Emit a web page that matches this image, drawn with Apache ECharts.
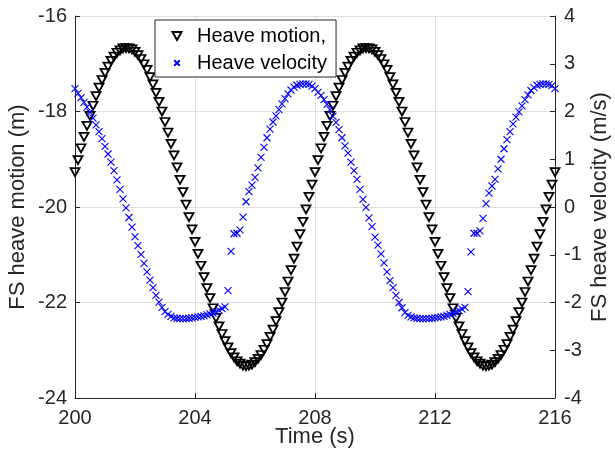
<!DOCTYPE html>
<html>
<head>
<meta charset="utf-8">
<script src="https://cdn.jsdelivr.net/npm/echarts@6/dist/echarts.min.js"></script>
<style>
  html, body { margin: 0; padding: 0; background: #fff; }
  #chart { width: 615px; height: 451px; }
</style>
</head>
<body>
<div id="chart"></div>
<script>
// Time samples (s)
const time = [
  200.0, 200.1, 200.2, 200.3, 200.4, 200.5, 200.6, 200.7, 200.8, 200.9,
  201.0, 201.1, 201.2, 201.3, 201.4, 201.5, 201.6, 201.7, 201.8, 201.9,
  202.0, 202.1, 202.2, 202.3, 202.4, 202.5, 202.6, 202.7, 202.8, 202.9,
  203.0, 203.1, 203.2, 203.3, 203.4, 203.5, 203.6, 203.7, 203.8, 203.9,
  204.0, 204.1, 204.2, 204.3, 204.4, 204.5, 204.6, 204.7, 204.8, 204.9,
  205.0, 205.1, 205.2, 205.3, 205.4, 205.5, 205.6, 205.7, 205.8, 205.9,
  206.0, 206.1, 206.2, 206.3, 206.4, 206.5, 206.6, 206.7, 206.8, 206.9,
  207.0, 207.1, 207.2, 207.3, 207.4, 207.5, 207.6, 207.7, 207.8, 207.9,
  208.0, 208.1, 208.2, 208.3, 208.4, 208.5, 208.6, 208.7, 208.8, 208.9,
  209.0, 209.1, 209.2, 209.3, 209.4, 209.5, 209.6, 209.7, 209.8, 209.9,
  210.0, 210.1, 210.2, 210.3, 210.4, 210.5, 210.6, 210.7, 210.8, 210.9,
  211.0, 211.1, 211.2, 211.3, 211.4, 211.5, 211.6, 211.7, 211.8, 211.9,
  212.0, 212.1, 212.2, 212.3, 212.4, 212.5, 212.6, 212.7, 212.8, 212.9,
  213.0, 213.1, 213.2, 213.3, 213.4, 213.5, 213.6, 213.7, 213.8, 213.9,
  214.0, 214.1, 214.2, 214.3, 214.4, 214.5, 214.6, 214.7, 214.8, 214.9,
  215.0, 215.1, 215.2, 215.3, 215.4, 215.5, 215.6, 215.7, 215.8, 215.9,
  216.0
];

// FS heave motion (m)
const heaveMotion = [
  -19.27, -19.02, -18.77, -18.53, -18.30, -18.09, -17.88, -17.68, -17.50, -17.34,
  -17.19, -17.06, -16.94, -16.85, -16.77, -16.72, -16.68, -16.67, -16.68, -16.70,
  -16.75, -16.82, -16.90, -17.01, -17.13, -17.28, -17.43, -17.61, -17.80, -18.00,
  -18.22, -18.44, -18.68, -18.92, -19.17, -19.43, -19.69, -19.95, -20.21, -20.47,
  -20.73, -20.98, -21.23, -21.47, -21.70, -21.91, -22.12, -22.32, -22.50, -22.66,
  -22.81, -22.94, -23.06, -23.15, -23.23, -23.28, -23.32, -23.33, -23.32, -23.30,
  -23.25, -23.18, -23.10, -22.99, -22.87, -22.72, -22.57, -22.39, -22.20, -22.00,
  -21.78, -21.56, -21.32, -21.08, -20.83, -20.57, -20.31, -20.05, -19.79, -19.53,
  -19.27, -19.02, -18.77, -18.53, -18.30, -18.09, -17.88, -17.68, -17.50, -17.34,
  -17.19, -17.06, -16.94, -16.85, -16.77, -16.72, -16.68, -16.67, -16.68, -16.70,
  -16.75, -16.82, -16.90, -17.01, -17.13, -17.28, -17.43, -17.61, -17.80, -18.00,
  -18.22, -18.44, -18.68, -18.92, -19.17, -19.43, -19.69, -19.95, -20.21, -20.47,
  -20.73, -20.98, -21.23, -21.47, -21.70, -21.91, -22.12, -22.32, -22.50, -22.66,
  -22.81, -22.94, -23.06, -23.15, -23.23, -23.28, -23.32, -23.33, -23.32, -23.30,
  -23.25, -23.18, -23.10, -22.99, -22.87, -22.72, -22.57, -22.39, -22.20, -22.00,
  -21.78, -21.56, -21.32, -21.08, -20.83, -20.57, -20.31, -20.05, -19.79, -19.53,
  -19.27
];

// FS heave velocity (m/s)
const heaveVelocity = [
  2.48, 2.38, 2.29, 2.19, 2.09, 1.98, 1.86, 1.72, 1.58, 1.43,
  1.27, 1.11, 0.94, 0.76, 0.57, 0.37, 0.17, -0.02, -0.22, -0.42,
  -0.62, -0.81, -0.99, -1.18, -1.36, -1.53, -1.69, -1.85, -1.99, -2.10,
  -2.19, -2.25, -2.29, -2.32, -2.33, -2.34, -2.34, -2.34, -2.33, -2.32,
  -2.31, -2.30, -2.29, -2.28, -2.26, -2.24, -2.22, -2.19, -2.16, -2.13,
  -2.09, -1.75, -0.93, -0.56, -0.55, -0.48, -0.21, 0.11, 0.32, 0.46,
  0.62, 0.82, 1.04, 1.25, 1.45, 1.63, 1.78, 1.91, 2.04, 2.16,
  2.27, 2.37, 2.45, 2.51, 2.55, 2.57, 2.58, 2.58, 2.57, 2.53,
  2.48, 2.40, 2.34, 2.25, 2.15, 2.04, 1.90, 1.77, 1.62, 1.45,
  1.28, 1.13, 0.94, 0.76, 0.58, 0.37, 0.16, -0.01, -0.23, -0.41,
  -0.63, -0.80, -0.98, -1.17, -1.36, -1.54, -1.69, -1.85, -2.00, -2.11,
  -2.21, -2.27, -2.30, -2.32, -2.33, -2.34, -2.34, -2.34, -2.34, -2.33,
  -2.32, -2.31, -2.30, -2.29, -2.27, -2.25, -2.23, -2.20, -2.17, -2.14,
  -2.10, -1.77, -0.94, -0.55, -0.55, -0.50, -0.24, 0.07, 0.29, 0.44,
  0.58, 0.80, 1.00, 1.22, 1.41, 1.58, 1.74, 1.88, 1.99, 2.12,
  2.25, 2.35, 2.44, 2.50, 2.55, 2.57, 2.58, 2.58, 2.57, 2.54,
  2.48
];

// Axis tick values
const timeTicks = [200, 204, 208, 212, 216];
const motionTicks = [-24, -22, -20, -18, -16];
const velocityTicks = [-4, -3, -2, -1, 0, 1, 2, 3, 4];

const FONT = 'Liberation Sans, Arial, Helvetica, sans-serif';
const INK = '#262626';
const GRID = '#dfdfdf';
const TICK_FS = 20;
const NAME_FS = 22;

// Marker shapes: an "x" cross for the scatter points, and padded legend icons
// (the zero-length moves only widen the bounding box so the icon stays small).
const crossPath = 'path://M0,0L10,10M10,0L0,10';
const crossLegendPath = 'path://M0,0L0,0M6,6L14,14M14,6L6,14M20,20L20,20';
const triangleLegendPath = 'path://M0,0L0,0M2.5,3L11.5,3L7,11ZM14,14L14,14';

const chart = echarts.init(document.getElementById('chart'), null, { renderer: 'canvas' });

const axisCommon = {
  nameMoveOverlap: false,
  axisLine: { show: true, onZero: false, lineStyle: { color: INK, width: 1 } },
  axisTick: { show: true, inside: true, length: 5, lineStyle: { color: INK } },
  nameTextStyle: { fontFamily: FONT, fontSize: NAME_FS, color: INK }
};

chart.setOption({
  backgroundColor: '#fff',
  animation: false,
  textStyle: { fontFamily: FONT },
  grid: {
    left: 75, right: 60, top: 16, bottom: 53,
    containLabel: false,
    outerBoundsMode: 'none'
  },
  legend: {
    orient: 'vertical',
    left: 155,
    top: 20,
    padding: [6, 9, 4, 14],
    itemGap: 7,
    itemWidth: 30,
    itemHeight: 14,
    backgroundColor: '#fff',
    borderColor: INK,
    borderWidth: 1,
    borderRadius: 0,
    textStyle: { fontFamily: FONT, fontSize: TICK_FS, color: '#000' },
    data: [
      { name: 'Heave motion,', icon: triangleLegendPath, symbolRotate: 0 },
      { name: 'Heave velocity', icon: crossLegendPath, symbolRotate: 0 }
    ]
  },
  xAxis: Object.assign({}, axisCommon, {
    type: 'value',
    min: timeTicks[0],
    max: timeTicks[timeTicks.length - 1],
    interval: timeTicks[1] - timeTicks[0],
    name: 'Time (s)',
    nameLocation: 'middle',
    nameGap: 28,
    axisLabel: { margin: 10, fontFamily: FONT, fontSize: TICK_FS, color: INK },
    splitLine: { show: true, lineStyle: { color: GRID, width: 1 } }
  }),
  yAxis: [
    Object.assign({}, axisCommon, {
      type: 'value',
      position: 'left',
      min: motionTicks[0],
      max: motionTicks[motionTicks.length - 1],
      interval: motionTicks[1] - motionTicks[0],
      name: 'FS heave motion (m)',
      nameLocation: 'middle',
      nameRotate: 90,
      nameGap: 46,
      axisLabel: { margin: 8, fontFamily: FONT, fontSize: TICK_FS, color: INK },
      splitLine: { show: true, lineStyle: { color: GRID, width: 1 } }
    }),
    Object.assign({}, axisCommon, {
      type: 'value',
      position: 'right',
      min: velocityTicks[0],
      max: velocityTicks[velocityTicks.length - 1],
      interval: velocityTicks[1] - velocityTicks[0],
      name: 'FS heave velocity (m/s)',
      nameLocation: 'middle',
      nameRotate: 90,
      nameGap: 34,
      axisLabel: { margin: 9, fontFamily: FONT, fontSize: TICK_FS, color: INK },
      splitLine: { show: false }
    })
  ],
  series: [
    {
      name: 'Heave motion,',
      type: 'scatter',
      yAxisIndex: 0,
      symbol: 'triangle',
      symbolRotate: 180,
      symbolSize: [9, 8],
      itemStyle: { color: 'rgba(0,0,0,0)', borderColor: '#000', borderWidth: 1.8, opacity: 1 },
      emphasis: { disabled: true },
      data: time.map((t, i) => [t, heaveMotion[i]])
    },
    {
      name: 'Heave velocity',
      type: 'scatter',
      yAxisIndex: 1,
      symbol: crossPath,
      symbolKeepAspect: true,
      symbolSize: 7,
      itemStyle: { color: 'rgba(0,0,0,0)', borderColor: '#0000ff', borderWidth: 1.1, opacity: 1 },
      emphasis: { disabled: true },
      data: time.map((t, i) => [t, heaveVelocity[i]])
    }
  ]
});
</script>
</body>
</html>
